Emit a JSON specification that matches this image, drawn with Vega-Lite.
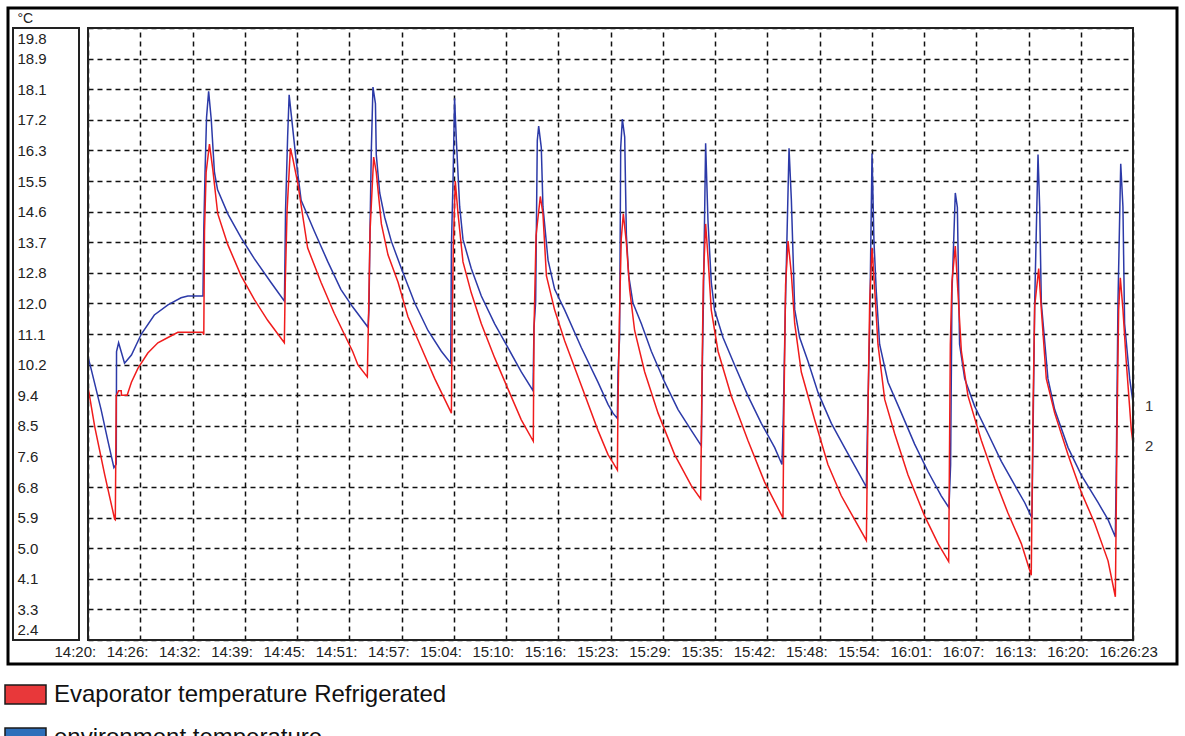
{
  "$schema": "https://vega.github.io/schema/vega-lite/v6.json",
  "width": 1169,
  "height": 656,
  "autosize": {"type": "none"},
  "padding": {"left": 8, "top": 8, "right": 8, "bottom": 72},
  "background": "white",
  "config": {"view": {"stroke": "#000", "strokeWidth": 3}},
  "datasets": {
    "env": [
      {"time":"14:20:03","temp":10.45},{"time":"14:20:26","temp":10.1},{"time":"14:21:38","temp":8.95},{"time":"14:22:27","temp":8.07},{"time":"14:23:11","temp":7.3},{"time":"14:23:28","temp":7.4},{"time":"14:23:30","temp":10.6},{"time":"14:23:45","temp":10.85},{"time":"14:24:28","temp":10.27},{"time":"14:25:18","temp":10.5},{"time":"14:26:30","temp":11.1},{"time":"14:28:04","temp":11.64},{"time":"14:29:43","temp":11.93},{"time":"14:31:18","temp":12.13},{"time":"14:32:07","temp":12.18},{"time":"14:33:57","temp":12.18},{"time":"14:34:03","temp":14.08},{"time":"14:34:12","temp":15.7},{"time":"14:34:23","temp":17.26},{"time":"14:34:38","temp":18.0},{"time":"14:34:57","temp":17.2},{"time":"14:35:20","temp":15.7},{"time":"14:35:43","temp":15.2},{"time":"14:36:59","temp":14.5},{"time":"14:38:33","temp":13.84},{"time":"14:40:08","temp":13.25},{"time":"14:42:09","temp":12.57},{"time":"14:43:48","temp":12.03},{"time":"14:43:56","temp":14.62},{"time":"14:44:11","temp":16.7},{"time":"14:44:22","temp":17.9},{"time":"14:44:41","temp":17.2},{"time":"14:45:11","temp":16.1},{"time":"14:45:49","temp":14.9},{"time":"14:47:24","temp":14.03},{"time":"14:49:03","temp":13.15},{"time":"14:50:37","temp":12.37},{"time":"14:52:01","temp":11.88},{"time":"14:53:54","temp":11.29},{"time":"14:54:01","temp":11.8},{"time":"14:54:09","temp":14.13},{"time":"14:54:18","temp":16.3},{"time":"14:54:30","temp":18.12},{"time":"14:54:48","temp":17.65},{"time":"14:54:54","temp":16.2},{"time":"14:55:19","temp":15.11},{"time":"14:55:55","temp":14.42},{"time":"14:56:43","temp":13.74},{"time":"14:57:56","temp":12.96},{"time":"14:59:33","temp":11.98},{"time":"15:01:09","temp":11.2},{"time":"15:02:46","temp":10.61},{"time":"15:03:54","temp":10.27},{"time":"15:03:59","temp":13.59},{"time":"15:04:11","temp":15.5},{"time":"15:04:22","temp":17.8},{"time":"15:04:35","temp":16.6},{"time":"15:04:59","temp":14.72},{"time":"15:05:23","temp":13.79},{"time":"15:06:23","temp":12.96},{"time":"15:07:36","temp":12.18},{"time":"15:09:13","temp":11.39},{"time":"15:10:49","temp":10.71},{"time":"15:12:26","temp":10.02},{"time":"15:13:51","temp":9.49},{"time":"15:13:58","temp":11.29},{"time":"15:14:10","temp":12.0},{"time":"15:14:22","temp":16.6},{"time":"15:14:32","temp":17.01},{"time":"15:14:51","temp":16.4},{"time":"15:15:03","temp":14.72},{"time":"15:15:40","temp":13.2},{"time":"15:16:28","temp":12.37},{"time":"15:17:41","temp":11.78},{"time":"15:19:42","temp":10.71},{"time":"15:21:42","temp":9.73},{"time":"15:22:55","temp":9.1},{"time":"15:23:31","temp":8.85},{"time":"15:24:03","temp":8.7},{"time":"15:24:07","temp":10.02},{"time":"15:24:19","temp":11.0},{"time":"15:24:27","temp":16.4},{"time":"15:24:39","temp":17.21},{"time":"15:24:56","temp":16.7},{"time":"15:25:08","temp":13.93},{"time":"15:25:25","temp":12.76},{"time":"15:25:56","temp":11.98},{"time":"15:26:57","temp":11.39},{"time":"15:28:09","temp":10.61},{"time":"15:29:46","temp":9.73},{"time":"15:31:23","temp":8.95},{"time":"15:32:59","temp":8.36},{"time":"15:34:12","temp":7.92},{"time":"15:34:17","temp":9.6},{"time":"15:34:26","temp":11.8},{"time":"15:34:43","temp":16.52},{"time":"15:35:00","temp":14.32},{"time":"15:35:24","temp":12.57},{"time":"15:35:48","temp":11.78},{"time":"15:36:49","temp":11.0},{"time":"15:38:13","temp":10.22},{"time":"15:39:50","temp":9.34},{"time":"15:41:27","temp":8.56},{"time":"15:43:04","temp":7.87},{"time":"15:43:57","temp":7.39},{"time":"15:44:07","temp":8.85},{"time":"15:44:21","temp":11.8},{"time":"15:44:48","temp":16.38},{"time":"15:45:05","temp":14.9},{"time":"15:45:29","temp":11.8},{"time":"15:46:05","temp":11.0},{"time":"15:47:06","temp":10.32},{"time":"15:48:18","temp":9.44},{"time":"15:49:55","temp":8.56},{"time":"15:51:31","temp":7.87},{"time":"15:53:08","temp":7.19},{"time":"15:54:09","temp":6.75},{"time":"15:54:16","temp":8.3},{"time":"15:54:33","temp":11.3},{"time":"15:54:50","temp":16.23},{"time":"15:55:04","temp":13.74},{"time":"15:55:21","temp":12.3},{"time":"15:55:45","temp":10.81},{"time":"15:56:46","temp":9.73},{"time":"15:58:23","temp":8.85},{"time":"15:59:59","temp":7.97},{"time":"16:01:36","temp":7.19},{"time":"16:03:12","temp":6.5},{"time":"16:04:08","temp":6.16},{"time":"16:04:20","temp":7.38},{"time":"16:04:30","temp":12.3},{"time":"16:04:54","temp":15.11},{"time":"16:05:09","temp":14.7},{"time":"16:05:25","temp":10.81},{"time":"16:06:02","temp":9.83},{"time":"16:07:14","temp":9.05},{"time":"16:08:51","temp":8.27},{"time":"16:10:28","temp":7.48},{"time":"16:12:05","temp":6.8},{"time":"16:13:17","temp":6.31},{"time":"16:14:10","temp":5.87},{"time":"16:14:18","temp":8.3},{"time":"16:14:30","temp":12.0},{"time":"16:14:54","temp":16.2},{"time":"16:15:06","temp":14.72},{"time":"16:15:18","temp":11.98},{"time":"16:16:06","temp":9.83},{"time":"16:16:55","temp":8.95},{"time":"16:18:32","temp":7.87},{"time":"16:20:08","temp":7.09},{"time":"16:22:09","temp":6.31},{"time":"16:23:22","temp":5.82},{"time":"16:24:15","temp":5.33},{"time":"16:24:22","temp":7.4},{"time":"16:24:34","temp":12.0},{"time":"16:24:54","temp":15.94},{"time":"16:25:10","temp":14.72},{"time":"16:25:22","temp":11.4},{"time":"16:25:59","temp":9.83},{"time":"16:26:23","temp":9.15}
    ],
    "evap": [
      {"time":"14:20:03","temp":9.6},{"time":"14:20:52","temp":8.46},{"time":"14:22:04","temp":7.1},{"time":"14:23:16","temp":5.84},{"time":"14:23:21","temp":5.82},{"time":"14:23:28","temp":9.34},{"time":"14:23:45","temp":9.49},{"time":"14:24:04","temp":9.49},{"time":"14:24:06","temp":9.36},{"time":"14:24:47","temp":9.36},{"time":"14:25:18","temp":9.73},{"time":"14:26:05","temp":10.12},{"time":"14:27:17","temp":10.56},{"time":"14:28:30","temp":10.85},{"time":"14:29:43","temp":11.0},{"time":"14:30:55","temp":11.15},{"time":"14:33:56","temp":11.15},{"time":"14:34:03","temp":11.08},{"time":"14:34:08","temp":14.03},{"time":"14:34:20","temp":15.7},{"time":"14:34:44","temp":16.5},{"time":"14:35:08","temp":15.79},{"time":"14:35:44","temp":14.52},{"time":"14:36:57","temp":13.64},{"time":"14:38:33","temp":12.76},{"time":"14:40:10","temp":12.08},{"time":"14:41:46","temp":11.49},{"time":"14:43:47","temp":10.85},{"time":"14:43:54","temp":12.57},{"time":"14:44:07","temp":14.6},{"time":"14:44:31","temp":16.38},{"time":"14:44:48","temp":16.1},{"time":"14:45:24","temp":15.4},{"time":"14:46:36","temp":13.55},{"time":"14:48:13","temp":12.57},{"time":"14:49:49","temp":11.69},{"time":"14:52:02","temp":10.61},{"time":"14:52:41","temp":10.22},{"time":"14:53:49","temp":9.88},{"time":"14:53:59","temp":11.8},{"time":"14:54:09","temp":14.03},{"time":"14:54:35","temp":16.13},{"time":"14:54:54","temp":15.7},{"time":"14:55:31","temp":14.23},{"time":"14:56:19","temp":13.35},{"time":"14:57:32","temp":12.57},{"time":"14:58:44","temp":11.59},{"time":"15:00:21","temp":10.71},{"time":"15:01:58","temp":9.83},{"time":"15:03:59","temp":8.85},{"time":"15:04:04","temp":11.2},{"time":"15:04:13","temp":13.6},{"time":"15:04:27","temp":15.45},{"time":"15:04:47","temp":14.52},{"time":"15:05:23","temp":13.15},{"time":"15:06:23","temp":12.27},{"time":"15:07:36","temp":11.39},{"time":"15:09:13","temp":10.42},{"time":"15:10:49","temp":9.54},{"time":"15:12:26","temp":8.66},{"time":"15:13:53","temp":8.05},{"time":"15:13:58","temp":11.2},{"time":"15:14:13","temp":13.9},{"time":"15:14:44","temp":15.01},{"time":"15:15:03","temp":14.52},{"time":"15:15:28","temp":12.76},{"time":"15:16:28","temp":11.78},{"time":"15:17:41","temp":10.9},{"time":"15:19:42","temp":9.63},{"time":"15:21:42","temp":8.36},{"time":"15:22:55","temp":7.67},{"time":"15:23:31","temp":7.44},{"time":"15:24:03","temp":7.23},{"time":"15:24:07","temp":9.0},{"time":"15:24:17","temp":11.4},{"time":"15:24:31","temp":13.8},{"time":"15:24:46","temp":14.52},{"time":"15:25:08","temp":13.7},{"time":"15:25:32","temp":12.37},{"time":"15:26:08","temp":11.2},{"time":"15:27:21","temp":10.02},{"time":"15:28:58","temp":8.85},{"time":"15:30:58","temp":7.67},{"time":"15:32:59","temp":6.79},{"time":"15:34:07","temp":6.41},{"time":"15:34:17","temp":10.0},{"time":"15:34:26","temp":12.6},{"time":"15:34:43","temp":14.23},{"time":"15:35:00","temp":13.3},{"time":"15:35:24","temp":11.78},{"time":"15:36:13","temp":10.61},{"time":"15:37:49","temp":9.34},{"time":"15:39:50","temp":8.07},{"time":"15:41:51","temp":6.89},{"time":"15:44:04","temp":5.87},{"time":"15:44:11","temp":9.0},{"time":"15:44:23","temp":12.5},{"time":"15:44:41","temp":13.74},{"time":"15:45:05","temp":12.8},{"time":"15:45:29","temp":11.4},{"time":"15:46:17","temp":10.02},{"time":"15:47:54","temp":8.66},{"time":"15:49:30","temp":7.39},{"time":"15:51:07","temp":6.5},{"time":"15:52:44","temp":5.82},{"time":"15:54:09","temp":5.23},{"time":"15:54:21","temp":9.0},{"time":"15:54:33","temp":12.0},{"time":"15:54:50","temp":13.55},{"time":"15:55:09","temp":12.4},{"time":"15:55:33","temp":10.81},{"time":"15:56:22","temp":9.24},{"time":"15:57:34","temp":8.27},{"time":"15:59:11","temp":7.09},{"time":"16:01:12","temp":5.92},{"time":"16:02:49","temp":5.14},{"time":"16:04:06","temp":4.63},{"time":"16:04:18","temp":10.8},{"time":"16:04:30","temp":12.6},{"time":"16:04:54","temp":13.6},{"time":"16:05:13","temp":12.3},{"time":"16:05:38","temp":10.61},{"time":"16:06:26","temp":9.34},{"time":"16:08:03","temp":8.07},{"time":"16:09:39","temp":6.99},{"time":"16:11:16","temp":6.01},{"time":"16:12:53","temp":5.14},{"time":"16:14:05","temp":4.24},{"time":"16:14:18","temp":9.0},{"time":"16:14:30","temp":11.9},{"time":"16:14:59","temp":12.96},{"time":"16:15:18","temp":11.8},{"time":"16:15:54","temp":9.83},{"time":"16:16:55","temp":8.85},{"time":"16:18:32","temp":7.67},{"time":"16:20:08","temp":6.6},{"time":"16:21:45","temp":5.72},{"time":"16:23:22","temp":4.65},{"time":"16:24:15","temp":3.63},{"time":"16:24:29","temp":9.0},{"time":"16:24:39","temp":11.8},{"time":"16:24:51","temp":12.7},{"time":"16:25:10","temp":11.8},{"time":"16:25:34","temp":10.32},{"time":"16:26:11","temp":8.36},{"time":"16:26:23","temp":8.0}
    ],
    "ends": [
      {"time":"16:26:23","temp":9.15,"label":"1"},
      {"time":"16:26:23","temp":8.0,"label":"2"}
    ],
    "legendrows": [
      {"series":"Evaporator temperature Refrigerated"},
      {"series":"environment temperature"}
    ]
  },
  "resolve": {"scale": {"x": "independent"}},
  "layer": [
    {
      "layer": [
        {
          "data": {"name": "env", "format": {"parse": {"time": "date:'%H:%M:%S'"}}},
          "mark": {"type": "line", "strokeWidth": 1.5},
          "encoding": {
            "x": {
              "field": "time", "type": "temporal",
              "scale": {"domain": [{"year":1900,"month":1,"date":1,"hours":14,"minutes":20,"seconds":3},{"year":1900,"month":1,"date":1,"hours":16,"minutes":26,"seconds":23}], "range": [80, 1125], "nice": false},
              "axis": {
                "values": [
                  {"year":1900,"month":1,"date":1,"hours":14,"minutes":20,"seconds":3},
                  {"year":1900,"month":1,"date":1,"hours":14,"minutes":26,"seconds":22},
                  {"year":1900,"month":1,"date":1,"hours":14,"minutes":32,"seconds":41},
                  {"year":1900,"month":1,"date":1,"hours":14,"minutes":39,"seconds":0},
                  {"year":1900,"month":1,"date":1,"hours":14,"minutes":45,"seconds":19},
                  {"year":1900,"month":1,"date":1,"hours":14,"minutes":51,"seconds":38},
                  {"year":1900,"month":1,"date":1,"hours":14,"minutes":57,"seconds":57},
                  {"year":1900,"month":1,"date":1,"hours":15,"minutes":4,"seconds":16},
                  {"year":1900,"month":1,"date":1,"hours":15,"minutes":10,"seconds":35},
                  {"year":1900,"month":1,"date":1,"hours":15,"minutes":16,"seconds":54},
                  {"year":1900,"month":1,"date":1,"hours":15,"minutes":23,"seconds":13},
                  {"year":1900,"month":1,"date":1,"hours":15,"minutes":29,"seconds":32},
                  {"year":1900,"month":1,"date":1,"hours":15,"minutes":35,"seconds":51},
                  {"year":1900,"month":1,"date":1,"hours":15,"minutes":42,"seconds":10},
                  {"year":1900,"month":1,"date":1,"hours":15,"minutes":48,"seconds":29},
                  {"year":1900,"month":1,"date":1,"hours":15,"minutes":54,"seconds":48},
                  {"year":1900,"month":1,"date":1,"hours":16,"minutes":1,"seconds":7},
                  {"year":1900,"month":1,"date":1,"hours":16,"minutes":7,"seconds":26},
                  {"year":1900,"month":1,"date":1,"hours":16,"minutes":13,"seconds":45},
                  {"year":1900,"month":1,"date":1,"hours":16,"minutes":20,"seconds":4},
                  {"year":1900,"month":1,"date":1,"hours":16,"minutes":26,"seconds":23}
                ],
                "tickCount": 40,
                "labelExpr": "datum.index > 0.99 ? timeFormat(datum.value, '%H:%M:%S') : timeFormat(datum.value, '%H:%M:')",
                "orient": "bottom", "offset": -24,
                "domain": false, "ticks": false, "tickSize": 0,
                "labelAlign": "left", "labelOffset": -34, "labelPadding": 4, "labelFlush": false, "labelOverlap": false,
                "labelFontSize": 15, "labelColor": "#222",
                "grid": true, "gridColor": "#111", "gridDash": [5, 4], "gridWidth": 1.5, "gridOpacity": 1,
                "title": null
              }
            },
            "y": {
              "field": "temp", "type": "quantitative",
              "scale": {"domain": [2.4, 19.8], "range": [632, 20], "nice": false, "zero": false},
              "axis": {
                "values": [2.4, 3.27, 4.14, 5.01, 5.88, 6.75, 7.62, 8.49, 9.36, 10.23, 11.1, 11.97, 12.84, 13.71, 14.58, 15.45, 16.32, 17.19, 18.06, 18.93, 19.8],
                "tickCount": 40,
                "labelExpr": "format(datum.value + 0.0001, '.1f')",
                "orient": "left", "offset": -71,
                "domain": false, "ticks": false, "tickSize": 0,
                "labelAlign": "left", "labelPadding": 62, "labelFlush": true, "labelFlushOffset": -3, "labelOverlap": false,
                "labelFontSize": 15, "labelColor": "#222",
                "grid": true, "gridColor": "#111", "gridDash": [5, 4], "gridWidth": 1.5, "gridOpacity": 1,
                "title": "°C", "titleAngle": 0, "titleX": -62, "titleY": 14, "titleAlign": "left", "titleBaseline": "alphabetic",
                "titleFontSize": 14, "titleFontWeight": "normal", "titleColor": "#222"
              }
            },
            "stroke": {"datum": "1", "type": "nominal", "scale": {"domain": ["1", "2"], "range": ["#2c3aa8", "#f01c1c"]}, "legend": null}
          }
        },
        {
          "data": {"name": "evap", "format": {"parse": {"time": "date:'%H:%M:%S'"}}},
          "mark": {"type": "line", "strokeWidth": 1.5},
          "encoding": {
            "x": {"field": "time", "type": "temporal"},
            "y": {"field": "temp", "type": "quantitative"},
            "stroke": {"datum": "2", "type": "nominal", "legend": null}
          }
        },
        {
          "data": {"values": [{}]},
          "mark": {"type": "rect", "fill": "transparent", "stroke": "#222", "strokeWidth": 2},
          "encoding": {
            "x": {"datum": {"year":1900,"month":1,"date":1,"hours":14,"minutes":20,"seconds":3}, "type": "temporal"},
            "x2": {"datum": {"year":1900,"month":1,"date":1,"hours":16,"minutes":26,"seconds":23}},
            "y": {"datum": 2.4, "type": "quantitative"},
            "y2": {"datum": 19.8}
          }
        },
        {
          "data": {"name": "ends", "format": {"parse": {"time": "date:'%H:%M:%S'"}}},
          "mark": {"type": "text", "align": "left", "baseline": "middle", "dx": 12, "dy": 3, "fontSize": 15, "fill": "#333"},
          "encoding": {
            "x": {"field": "time", "type": "temporal"},
            "y": {"field": "temp", "type": "quantitative"},
            "text": {"field": "label"}
          }
        },
        {
          "data": {"name": "legendrows"},
          "mark": {"type": "point", "filled": true, "opacity": 0},
          "encoding": {
            "fill": {
              "field": "series", "type": "nominal",
              "scale": {"domain": ["Evaporator temperature Refrigerated", "environment temperature"], "range": ["#e8383a", "#2e6fba"]},
              "legend": {
                "orient": "none", "legendX": -4, "legendY": 665, "title": null, "direction": "vertical",
                "symbolType": "M-1,-0.4634H1V0.4634H-1Z", "symbolSize": 1681, "symbolStrokeColor": "#1a1a1a", "symbolStrokeWidth": 1.5, "symbolOpacity": 1,
                "labelFontSize": 24, "labelColor": "#111", "labelOffset": 7, "labelLimit": 800,
                "rowPadding": 9, "padding": 0
              }
            }
          }
        }
      ]
    },
    {
      "data": {"values": [{}]},
      "mark": {"type": "rect", "fill": "transparent", "stroke": "#222", "strokeWidth": 2},
      "encoding": {
        "x": {"datum": 0, "type": "quantitative", "scale": {"domain": [0, 1], "range": [5, 71]}, "axis": null},
        "x2": {"datum": 1},
        "y": {"datum": 2.4, "type": "quantitative"},
        "y2": {"datum": 19.8}
      }
    }
  ]
}
